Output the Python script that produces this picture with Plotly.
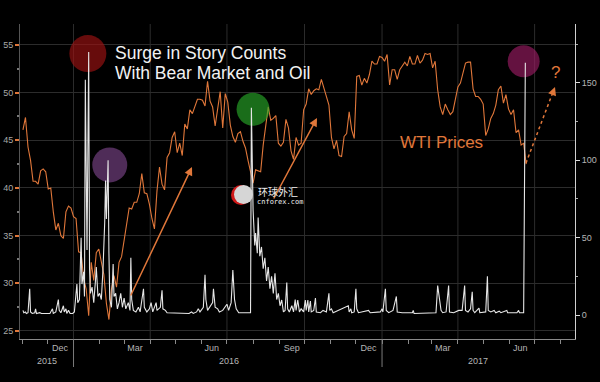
import plotly.graph_objects as go
import pandas as pd

# ---------------- data ----------------
wti_start = "2015-11-02"
wti_prices = [
    46.1, 47.4, 44.3, 42.9, 40.7, 40.7, 40.4, 41.8, 42.0, 41.7,
    39.9, 40.0, 37.5, 35.6, 36.3, 35.0, 34.7, 37.5, 38.1, 37.9,
    37.0, 36.8, 33.3, 33.2, 30.5, 29.4, 26.6, 32.2, 30.3, 33.2,
    33.6, 32.3, 30.9, 27.9, 26.2, 29.4, 30.8, 29.6, 32.2, 32.8,
    34.4, 35.9, 37.9, 37.8, 38.5, 38.5, 39.4, 41.5, 39.5, 39.4,
    38.3, 36.8, 35.7, 39.7, 42.2, 40.4, 39.8, 43.2, 43.7, 45.3,
    45.9, 43.7, 44.7, 43.4, 46.7, 46.2, 48.2, 47.8, 48.6, 49.3,
    49.3, 49.2, 48.6, 51.2, 49.1, 48.5, 46.5, 48.4, 50.1, 46.3,
    49.9, 49.0, 46.6, 45.4, 44.8, 45.7, 45.9, 44.9, 44.2, 42.9,
    41.6, 40.5, 41.9, 41.8, 41.7, 44.5, 46.6, 48.5, 47.1, 47.3,
    47.6, 44.7, 44.4, 44.8, 47.2, 46.3, 43.9, 43.0, 45.3, 44.5,
    44.7, 48.2, 48.8, 50.4, 49.8, 50.2, 50.4, 50.3, 51.4, 50.5,
    49.7, 48.7, 45.3, 44.1, 45.0, 43.4, 43.3, 45.4, 45.7, 48.0,
    46.1, 45.2, 51.7, 51.8, 50.8, 51.5, 51.0, 51.9, 53.3, 53.0,
    53.0, 53.8, 53.7, 53.3, 54.0, 50.8, 52.4, 52.4, 51.4, 52.4,
    52.8, 53.2, 52.8, 53.8, 53.0, 53.0, 53.9, 53.1, 53.4, 54.1,
    54.0, 54.1, 52.6, 53.3, 50.3, 48.5, 47.7, 48.8, 48.2, 47.7,
    48.0, 49.5, 50.6, 51.0, 52.2, 53.1, 53.2, 53.2, 50.4, 49.6,
    49.6, 49.3, 48.8, 45.5, 46.2, 47.3, 47.8, 48.7, 50.3, 50.7,
    48.9, 49.8, 48.3, 47.7, 48.2, 45.8, 46.1, 44.5, 44.7, 42.5,
]
wti_dates = pd.date_range(wti_start, periods=len(wti_prices), freq="3D")

story_dates = [
    "2015-11-02", "2015-11-03", "2015-11-05", "2015-11-06", "2015-11-08", "2015-11-10",
    "2015-11-11", "2015-11-13", "2015-11-16", "2015-11-17", "2015-11-18", "2015-11-22",
    "2015-11-24", "2015-12-04", "2015-12-07", "2015-12-08", "2015-12-11", "2015-12-14",
    "2015-12-15", "2015-12-17", "2015-12-20", "2015-12-21", "2015-12-23", "2015-12-24",
    "2015-12-26", "2015-12-28", "2015-12-31", "2016-01-02", "2016-01-05", "2016-01-06",
    "2016-01-08", "2016-01-10", "2016-01-11", "2016-01-13", "2016-01-14", "2016-01-15",
    "2016-01-17", "2016-01-19", "2016-01-20", "2016-01-21", "2016-01-23", "2016-01-25",
    "2016-01-27", "2016-01-28", "2016-01-30", "2016-02-01", "2016-02-03", "2016-02-05",
    "2016-02-07", "2016-02-08", "2016-02-09", "2016-02-11", "2016-02-12", "2016-02-13",
    "2016-02-15", "2016-02-17", "2016-02-18", "2016-02-20", "2016-02-22", "2016-02-24",
    "2016-02-26", "2016-02-28", "2016-03-01", "2016-03-03", "2016-03-06", "2016-03-08",
    "2016-03-09", "2016-03-10", "2016-03-12", "2016-03-15", "2016-03-18", "2016-03-20",
    "2016-03-24", "2016-03-25", "2016-03-28", "2016-03-31", "2016-04-02", "2016-04-04",
    "2016-04-08", "2016-04-09", "2016-04-13", "2016-04-15", "2016-04-16", "2016-04-19",
    "2016-04-21", "2016-05-10", "2016-05-17", "2016-05-20", "2016-05-22", "2016-05-26",
    "2016-05-28", "2016-05-30", "2016-06-03", "2016-06-05", "2016-06-06", "2016-06-08",
    "2016-06-14", "2016-06-15", "2016-06-17", "2016-06-20", "2016-06-22", "2016-06-26",
    "2016-06-29", "2016-07-01", "2016-07-03", "2016-07-06", "2016-07-08", "2016-07-10",
    "2016-07-12", "2016-07-15", "2016-07-29", "2016-07-30", "2016-08-01", "2016-08-03",
    "2016-08-04", "2016-08-06", "2016-08-07", "2016-08-09", "2016-08-11", "2016-08-13",
    "2016-08-15", "2016-08-17", "2016-08-19", "2016-08-21", "2016-08-23", "2016-08-25",
    "2016-08-27", "2016-08-29", "2016-08-31", "2016-09-02", "2016-09-04", "2016-09-06",
    "2016-09-08", "2016-09-10", "2016-09-11", "2016-09-13", "2016-09-16", "2016-09-18",
    "2016-09-20", "2016-09-21", "2016-09-23", "2016-09-25", "2016-09-27", "2016-09-30",
    "2016-10-02", "2016-10-03", "2016-10-05", "2016-10-06", "2016-10-08", "2016-10-09",
    "2016-10-12", "2016-10-14", "2016-10-15", "2016-10-20", "2016-10-23", "2016-10-27",
    "2016-10-30", "2016-10-31", "2016-11-02", "2016-11-04", "2016-11-22", "2016-11-23",
    "2016-11-25", "2016-11-26", "2016-11-29", "2016-12-01", "2016-12-02", "2016-12-04",
    "2016-12-16", "2016-12-18", "2016-12-30", "2017-01-01", "2017-01-02", "2017-01-05",
    "2017-01-06", "2017-01-09", "2017-01-14", "2017-01-18", "2017-01-19", "2017-01-25",
    "2017-02-06", "2017-02-07", "2017-02-08", "2017-03-06", "2017-03-08", "2017-03-10",
    "2017-03-12", "2017-03-14", "2017-03-18", "2017-03-21", "2017-03-22", "2017-03-27",
    "2017-04-02", "2017-04-06", "2017-04-09", "2017-04-10", "2017-04-13", "2017-04-16",
    "2017-04-18", "2017-04-19", "2017-04-21", "2017-04-26", "2017-04-27", "2017-05-04",
    "2017-05-06", "2017-05-07", "2017-05-10", "2017-05-14", "2017-05-16", "2017-05-20",
    "2017-05-22", "2017-05-29", "2017-05-30", "2017-06-10", "2017-06-12", "2017-06-13",
    "2017-06-18", "2017-06-20",
]
story_counts = [
    3, 1.5, 2, 1, 1.5, 17,
    2, 1, 1.5, 4, 1, 1.5,
    1, 1, 4, 1, 2, 10,
    3, 1.5, 6, 2, 4, 1,
    3, 1, 1, 2, 20, 8,
    10, 50, 20, 28, 12, 152,
    42, 170, 30, 14, 18, 8,
    22, 31, 12, 14, 10, 30,
    60, 87, 62, 100, 40, 10,
    5, 33, 12, 14, 4, 8,
    14, 5, 11, 4, 8, 3,
    37, 10, 3, 2, 5, 2,
    17, 5, 2, 4, 8, 2,
    8, 3, 5, 16, 4, 3,
    1.5, 1, 1, 2, 1, 2,
    4, 2, 5, 26, 10, 3,
    8, 17, 5, 4, 2, 3,
    5, 7, 3, 8, 29, 10,
    4, 1.5, 1.5, 134, 68, 45,
    53, 40, 63, 38, 44, 30,
    37, 22, 31, 17, 25, 14,
    27, 10, 14, 6, 9.7, 2,
    3, 21, 4, 2, 6, 2,
    10, 3, 9.7, 2, 4, 2,
    9.7, 3, 9.7, 2, 9, 2,
    3, 11, 2, 1.5, 3, 2,
    14, 3, 4, 1.5, 6, 2,
    4, 1.5, 2, 17, 4, 1.5,
    3, 1.5, 2, 4, 2, 17,
    3, 1.5, 3, 12, 2, 1.5,
    1.5, 3, 1, 1.5, 19, 10,
    3, 1.5, 2, 19, 2, 1.5,
    3, 3, 19, 3, 2, 4,
    15, 3, 1.5, 4.5, 1.5, 2,
    25, 3, 2, 3, 1.5, 2.5,
    1.5, 3, 1.5, 1.5, 3, 1.5,
    1.5, 163,
]

circle_dates = ["2016-01-18", "2016-02-13", "2016-08-01", "2017-06-18"]
circle_counts = [169, 97, 133, 164]
circle_sizes = [37, 35, 33, 32]
circle_colors = ["rgba(160,18,18,0.92)", "rgba(125,70,140,0.9)",
                 "rgba(40,170,40,0.92)", "rgba(155,28,100,0.92)"]

left_ticks = [25, 30, 35, 40, 45, 50, 55]
right_ticks = [0, 50, 100, 150]
month_label_dates = ["2015-12-16", "2016-03-14", "2016-06-13", "2016-09-16",
                     "2016-12-16", "2017-03-14", "2017-06-14"]
month_labels = ["Dec", "Mar", "Jun", "Sep", "Dec", "Mar", "Jun"]
year_label_dates = ["2015-12-01", "2016-07-04", "2017-04-25"]
year_labels = ["2015", "2016", "2017"]
year_breaks = ["2016-01-01", "2017-01-01"]
quarter_starts = ["2016-01-01", "2016-04-01", "2016-07-01", "2016-10-01",
                  "2017-01-01", "2017-04-01", "2017-07-01"]

# ---------------- layout helpers ----------------
W, H = 600, 382
L, R, T, B = 20, 25, 24, 43
PW, PH = W - L - R, H - T - B


def px(xp):
    return (xp - L) / PW


def py(yp):
    return (H - B - yp) / PH


ORANGE = "#e0773a"
GRID = "#2c2c2c"

fig = go.Figure()
fig.add_trace(go.Scatter(x=wti_dates, y=wti_prices, mode="lines",
                         line=dict(color=ORANGE, width=1.1), yaxis="y",
                         hoverinfo="skip", showlegend=False))
fig.add_trace(go.Scatter(x=circle_dates, y=circle_counts, mode="markers",
                         marker=dict(size=circle_sizes, color=circle_colors, line=dict(width=0)),
                         yaxis="y2", hoverinfo="skip", showlegend=False))
fig.add_trace(go.Scatter(x=story_dates, y=story_counts, mode="lines",
                         line=dict(color="#e6e6e6", width=1.1), yaxis="y2",
                         hoverinfo="skip", showlegend=False))

shapes = []
for q in quarter_starts:
    shapes.append(dict(type="line", xref="x", yref="paper", x0=q, x1=q, y0=0, y1=1,
                       line=dict(color=GRID, width=1), layer="below"))
for yb in year_breaks:
    shapes.append(dict(type="line", xref="x", yref="paper", x0=yb, x1=yb, y0=0, y1=py(367),
                       line=dict(color="#7a7a7a", width=1)))

# dotted arrow shaft
shapes.append(dict(type="line", xref="paper", yref="paper", x0=px(526), y0=py(163),
                   x1=px(553), y1=py(92), line=dict(color=ORANGE, width=1.5, dash="dot")))

# watermark logo
shapes.append(dict(type="circle", xref="paper", yref="paper",
                   x0=px(231), x1=px(251), y0=py(205), y1=py(185),
                   fillcolor="#d01818", line=dict(width=0)))
shapes.append(dict(type="circle", xref="paper", yref="paper",
                   x0=px(234), x1=px(253), y0=py(204), y1=py(185),
                   fillcolor="#d6d6d6", line=dict(width=0)))

annotations = [
    dict(text="Surge in Story Counts", x=px(113), y=py(53), xref="paper", yref="paper",
         xanchor="left", yanchor="middle", showarrow=False,
         font=dict(family="Liberation Sans", size=17.5, color="#f2f2f2")),
    dict(text="With Bear Market and Oil", x=px(113), y=py(73), xref="paper", yref="paper",
         xanchor="left", yanchor="middle", showarrow=False,
         font=dict(family="Liberation Sans", size=17.5, color="#f2f2f2")),
    dict(text="WTI Prices", x=px(398), y=py(142), xref="paper", yref="paper",
         xanchor="left", yanchor="middle", showarrow=False,
         font=dict(family="Liberation Sans", size=17, color=ORANGE)),
    dict(text="?", x=px(555), y=py(72), xref="paper", yref="paper",
         xanchor="center", yanchor="middle", showarrow=False,
         font=dict(family="Liberation Sans", size=17, color=ORANGE)),
    # arrows
    dict(text="", x=px(192), y=py(167), xref="paper", yref="paper", showarrow=True,
         ax=-62, ay=130, arrowhead=2, arrowsize=1.1, arrowwidth=1.5, arrowcolor=ORANGE),
    dict(text="", x=px(317), y=py(118), xref="paper", yref="paper", showarrow=True,
         ax=-44, ay=82, arrowhead=2, arrowsize=1.1, arrowwidth=1.5, arrowcolor=ORANGE),
    dict(text="", x=px(555), y=py(87), xref="paper", yref="paper", showarrow=True,
         ax=-3, ay=8, arrowhead=2, arrowsize=1.1, arrowwidth=1.5, arrowcolor=ORANGE),
    # watermark text
    dict(text="环球外汇", x=px(256), y=py(191), xref="paper", yref="paper",
         xanchor="left", yanchor="middle", showarrow=False,
         font=dict(family="Noto Sans CJK SC", size=10, color="#f0f0f0")),
    dict(text="cnforex.com", x=px(255), y=py(202), xref="paper", yref="paper",
         xanchor="left", yanchor="middle", showarrow=False,
         font=dict(family="DejaVu Sans Mono", size=7, color="#f0f0f0")),
]
for d, t in zip(year_label_dates, year_labels):
    annotations.append(dict(text=t, x=d, y=py(361), xref="x", yref="paper",
                            xanchor="center", yanchor="middle", showarrow=False,
                            font=dict(family="Liberation Sans", size=9, color="#b5b5b5")))

fig.update_layout(
    width=W, height=H,
    margin=dict(l=L, r=R, t=T, b=B),
    paper_bgcolor="#000000", plot_bgcolor="#000000",
    showlegend=False, hovermode=False,
    shapes=shapes, annotations=annotations,
    xaxis=dict(
        range=["2015-10-29 12:00", "2017-08-17 22:00"],
        tickvals=month_label_dates, ticktext=month_labels, ticks="",
        showgrid=False, zeroline=False, showline=True, linecolor="#8a8a8a", linewidth=1,
        tickfont=dict(family="Liberation Sans", size=9, color="#b5b5b5"),
        minor=dict(ticks="outside", ticklen=4, tickcolor="#8a8a8a", dtick="M1",
                   tick0="2015-11-01", showgrid=False),
        automargin=False,
    ),
    yaxis=dict(
        range=[24.16, 57.2], tickvals=left_ticks, ticks="outside", ticklen=4,
        tickcolor=ORANGE, tickwidth=1.5, showgrid=True, gridcolor=GRID, gridwidth=1,
        zeroline=False, showline=True, linecolor="#555555",
        tickfont=dict(family="Liberation Sans", size=9, color="#a8a8a8"),
        minor=dict(ticks="outside", ticklen=2, tickcolor="#777777", dtick=2.5, showgrid=False),
        automargin=False,
    ),
    yaxis2=dict(
        range=[-15.5, 188.1], tickvals=right_ticks, overlaying="y", side="right",
        ticks="outside", ticklen=4, tickcolor="#dddddd", showgrid=False, zeroline=False,
        showline=True, linecolor="#d0d0d0",
        tickfont=dict(family="Liberation Sans", size=9, color="#b5b5b5"),
        minor=dict(ticks="outside", ticklen=2, tickcolor="#aaaaaa", dtick=25),
        automargin=False,
    ),
)

fig.write_html(
    "out.html",
    config={"displayModeBar": False},
    post_script="document.body.style.margin='0';document.body.style.background='#000';",
)
